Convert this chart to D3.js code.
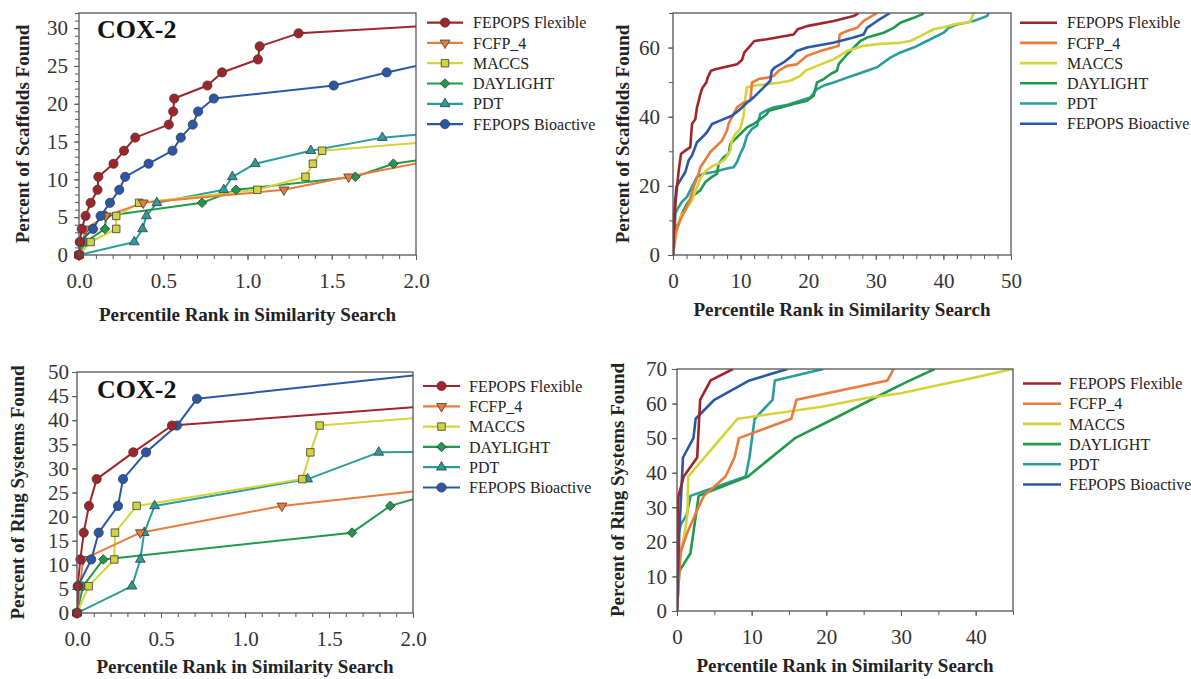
<!DOCTYPE html>
<html><head><meta charset="utf-8">
<script src="https://cdn.jsdelivr.net/npm/d3@7"></script>
<style>body{margin:0;background:#fff}</style>
</head><body>
<svg id="chart" width="1191" height="679"></svg>
<script>
// ---------- series ----------
const seriesNames = ["FEPOPS Flexible","FCFP_4","MACCS","DAYLIGHT","PDT","FEPOPS Bioactive"];
const seriesColors = ["#a1242a","#ea7b3c","#d3d33c","#21994a","#2a9c9c","#2a58a6"];
const seriesShapes = ["circle","triangleDown","square","diamond","triangleUp","circle"];

// ---------- panel A: scaffolds, 0-2 percentile (markers) ----------
const scafNearFlexible = [[0,0],[0.005,1.72],[0.016,3.45],[0.039,5.17],[0.069,6.9],[0.11,8.62],[0.115,10.34],[0.205,12.07],[0.267,13.79],[0.334,15.52],[0.533,17.24],[0.559,18.97],[0.565,20.69],[0.762,22.41],[0.849,24.14],[1.062,25.86],[1.072,27.59],[1.303,29.31],[2.0,30.2]];
const scafNearFCFP4 = [[0,0],[0.04,3.45],[0.16,5.17],[0.381,6.9],[1.216,8.62],[1.6,10.34],[2.0,12.1]];
const scafNearMACCS = [[0,0],[0.069,1.72],[0.221,3.45],[0.221,5.17],[0.357,6.9],[1.058,8.62],[1.344,10.34],[1.388,12.07],[1.443,13.79],[2.0,14.8]];
const scafNearDaylight = [[0,0],[0.037,1.72],[0.154,3.45],[0.16,5.17],[0.73,6.9],[0.932,8.62],[1.64,10.34],[1.866,12.07],[2.0,12.5]];
const scafNearPDT = [[0,0],[0.328,1.72],[0.377,3.45],[0.4,5.17],[0.462,6.9],[0.859,8.62],[0.91,10.34],[1.046,12.07],[1.376,13.79],[1.8,15.52],[2.0,15.9]];
const scafNearBioactive = [[0,0],[0.006,1.72],[0.083,3.45],[0.128,5.17],[0.184,6.9],[0.239,8.62],[0.274,10.34],[0.413,12.07],[0.555,13.79],[0.604,15.52],[0.675,17.24],[0.707,18.97],[0.8,20.69],[1.512,22.41],[1.826,24.14],[2.0,25.0]];

// ---------- panel B: scaffolds, 0-50 percentile ----------
const scafFarFlexible = [[0,0],[0.15,8.2],[0.39,15.8],[0.84,24.4],[1.18,29.2],[1.82,30.2],[2.56,31.2],[2.81,37.9],[3.3,39.3],[3.55,42.7],[3.8,44.6],[4.04,46.5],[4.34,48.3],[4.93,49.9],[5.13,51.3],[5.62,53.3],[6.26,53.7],[9.47,55.2],[10.2,56.4],[10.55,58.6],[11.19,60.0],[12.03,61.9],[13.9,62.4],[17.85,63.8],[18.44,65.3],[19.82,66.2],[23.77,67.7],[26.73,69.1],[27.47,70]];
const scafFarFCFP4 = [[0,0],[0.35,6.2],[0.69,8.1],[1.08,10.1],[1.58,12],[2.47,15.8],[3.06,19.7],[3.8,23.5],[4.04,25.4],[5.03,28.3],[5.52,29.8],[6.26,31.2],[7.25,33.1],[7.99,36],[8.23,38],[8.97,40.8],[9.47,42.7],[10.45,44.1],[11.44,44.6],[11.69,49.9],[12.67,50.9],[13.9,51.3],[14.89,51.8],[15.63,53.3],[16.86,54.7],[18.34,55.2],[19.82,57.6],[21.79,59],[24.5,60.5],[24.65,63.8],[25.74,64.8],[27.22,65.7],[28.21,67.7],[30.18,70]];
const scafFarMACCS = [[0,0],[0.35,4.3],[0.69,8.1],[1.08,11],[1.82,12.9],[2.81,15.8],[3.55,19.7],[4.04,22.1],[4.93,24.5],[6.02,25.9],[6.76,26.4],[7.74,27.8],[8.48,30.2],[8.73,33.1],[9.22,35],[9.96,36.5],[10.45,40.3],[10.7,45.6],[10.95,48.5],[11.93,49],[13.9,49.4],[15.88,49.9],[17.36,50.4],[18.84,51.8],[19.58,53.3],[21.3,54.7],[23.77,56.6],[25.74,59],[28.21,60.5],[30.18,61],[33.63,61.4],[35.11,61.9],[36.59,63.3],[38.56,65.3],[40.04,65.9],[41.52,66.7],[43.98,67.4],[44.48,70]];
const scafFarDaylight = [[0,0],[0.2,6.2],[0.49,8.1],[0.84,9.1],[1.33,12],[2.07,14.9],[3.06,17.3],[4.04,18.7],[4.78,21.1],[5.77,22.6],[6.51,23.5],[6.76,26.4],[7.5,28.3],[8.23,29.3],[8.48,32.1],[8.97,33.1],[9.96,35],[10.95,36.9],[11.93,37.9],[12.67,38.9],[13.9,40.8],[14.15,41.7],[15.14,42.2],[17.85,43.7],[19.82,44.6],[20.81,46.1],[21.3,49.9],[22.29,50.9],[23.27,52.3],[24.26,53.3],[24.51,55.2],[25.74,58],[27.71,61.9],[28.7,62.9],[31.16,64.3],[32.64,65.7],[33.63,67.2],[35.6,68.6],[36.83,69.6],[37.08,70]];
const scafFarPDT = [[0,0],[0.2,4.3],[0.35,12],[0.69,13.4],[1.33,15.4],[2.07,16.8],[2.81,19.7],[3.55,22.6],[4.54,23.5],[6.02,24],[7.0,24.5],[7.99,25],[8.97,25.4],[9.47,26.9],[9.96,29.3],[10.45,31.2],[10.95,34.5],[11.69,36.5],[12.43,37.4],[12.92,40.8],[13.66,41.7],[14.15,42.2],[14.89,42.7],[16.86,43.4],[18.84,44.6],[20.32,45.6],[21.3,48],[22.29,49],[23.77,49.9],[25.74,51.3],[27.22,52.3],[28.7,53.3],[30.18,54.3],[32.15,57.1],[33.63,58.6],[35.6,60],[37.57,61.9],[40.04,64.3],[40.78,65.7],[42.01,66.7],[44.48,67.7],[46.45,69.1],[46.7,70]];
const scafFarBioactive = [[0,0],[0.2,12],[0.49,19.7],[1.08,21.6],[1.82,24],[2.32,27.4],[2.81,28.8],[3.55,32.6],[4.54,34.5],[5.03,35.5],[5.77,37.9],[7.5,39.3],[8.73,40.3],[9.96,42.2],[10.95,44.1],[11.93,45.6],[13.17,48],[14.4,50.4],[14.6,53.3],[15.1,54.3],[16.35,55.7],[17.6,57.6],[18.3,59.0],[19.8,60],[23.7,61.4],[26.7,62.9],[28.2,63.8],[28.7,65.7],[30.2,67.7],[32.1,70]];

// ---------- panel C: ring systems, 0-2 percentile (markers) ----------
const ringNearFlexible = [[0,0],[0.004,5.56],[0.02,11.11],[0.04,16.67],[0.071,22.22],[0.117,27.78],[0.335,33.33],[0.565,38.89],[2.0,42.7]];
const ringNearFCFP4 = [[0,0],[0.036,11.11],[0.377,16.67],[1.22,22.22],[2.0,25.2]];
const ringNearMACCS = [[0,0],[0.069,5.56],[0.222,11.11],[0.226,16.67],[0.355,22.22],[1.341,27.78],[1.389,33.33],[1.444,38.89],[2.0,40.4]];
const ringNearDaylight = [[0,0],[0.036,5.56],[0.157,11.11],[1.637,16.67],[1.865,22.22],[2.0,23.6]];
const ringNearPDT = [[0,0],[0.327,5.56],[0.377,11.11],[0.4,16.67],[0.462,22.22],[1.373,27.78],[1.796,33.33],[2.0,33.4]];
const ringNearBioactive = [[0,0],[0.006,5.56],[0.085,11.11],[0.129,16.67],[0.244,22.22],[0.274,27.78],[0.411,33.33],[0.595,38.89],[0.714,44.44],[2.0,49.3]];

// ---------- panel D: ring systems, 0-45 percentile ----------
const ringFarFlexible = [[0,0],[0.1,27.8],[0.2,33.3],[0.9,38.9],[2.7,44.4],[3.1,61.1],[4.5,66.7],[7.5,70]];
const ringFarFCFP4 = [[0,0],[0.3,11.1],[0.5,17],[1.3,22.2],[2.4,27.8],[3.6,33.3],[5,36],[6.5,38.9],[7.7,44.4],[8.3,50],[15.3,55.6],[16,61.1],[28.2,66.7],[29,70]];
const ringFarMACCS = [[0,0],[0.4,16.7],[1.0,22.2],[1.4,27.8],[1.5,38.9],[5.9,50],[8.1,55.6],[19.4,59.1],[25.4,61.6],[30,63],[34.3,65],[39.6,67.4],[45,70]];
const ringFarDaylight = [[0,0],[0.3,11.1],[0.5,12.2],[1.8,16.7],[2.9,33.3],[9.5,38.9],[15.8,50],[21,55.6],[26,61.1],[30.5,66],[34.5,70]];
const ringFarPDT = [[0,0],[0.2,22.2],[0.5,25],[1.3,27.8],[1.8,33.3],[9.2,38.9],[9.7,44.4],[10.4,55.6],[12.8,61.1],[13.1,66.7],[19.6,70]];
const ringFarBioactive = [[0,0],[0.3,22.2],[0.8,44.4],[2.2,50],[2.5,55.6],[5,61.1],[9.7,66.7],[14.8,70]];

// ---------- axes ticks ----------
const nearXTicks = [0, 0.5, 1.0, 1.5, 2.0];
const scafNearYTicks = [0,5,10,15,20,25,30];
const scafFarXTicks = [0,10,20,30,40,50];
const scafFarYTicks = [0,20,40,60];
const ringNearYTicks = [0,5,10,15,20,25,30,35,40,45,50];
const ringFarXTicks = [0,10,20,30,40];
const ringFarYTicks = [0,10,20,30,40,50,60,70];

const xTitle = "Percentile Rank in Similarity Search";
const yTitleScaf = "Percent of Scaffolds Found";
const yTitleRing = "Percent of Ring Systems Found";
const panelLabel = "COX-2";

const panels = [
  {l:79,r:416,t:13,b:255,xd:[0,2],yd:[0,32],xt:nearXTicks,xfmt:d3.format(".1f"),xm:0.1,yt:scafNearYTicks,ym:1,ypad:6,
   series:[scafNearFlexible,scafNearFCFP4,scafNearMACCS,scafNearDaylight,scafNearPDT,scafNearBioactive],markers:true,
   label:{x:97,y:38},yTitle:yTitleScaf,yTx:29,xTy:321,leg:{x0:427,x1:463,tx:473,y0:22.6,dy:20.3}},
  {l:673,r:1011,t:13,b:255,xd:[0,50],yd:[0,70],xt:scafFarXTicks,xfmt:d3.format("d"),xm:2,yt:scafFarYTicks,ym:10,ypad:8,
   series:[scafFarFlexible,scafFarFCFP4,scafFarMACCS,scafFarDaylight,scafFarPDT,scafFarBioactive],markers:false,
   label:null,yTitle:yTitleScaf,yTx:629,xTy:316,leg:{x0:1020,x1:1057,tx:1067,y0:22.7,dy:20.2}},
  {l:77,r:413,t:372,b:613,xd:[0,2],yd:[0,50],xt:nearXTicks,xfmt:d3.format(".1f"),xm:0.1,yt:ringNearYTicks,ym:5,ypad:3,
   series:[ringNearFlexible,ringNearFCFP4,ringNearMACCS,ringNearDaylight,ringNearPDT,ringNearBioactive],markers:true,
   label:{x:97,y:398},yTitle:yTitleRing,yTx:24,xTy:673,leg:{x0:423,x1:460,tx:469,y0:386,dy:20.3}},
  {l:677,r:1013,t:369,b:611,xd:[0,45],yd:[0,70],xt:ringFarXTicks,xfmt:d3.format("d"),xm:5,yt:ringFarYTicks,ym:10,ypad:5,
   series:[ringFarFlexible,ringFarFCFP4,ringFarMACCS,ringFarDaylight,ringFarPDT,ringFarBioactive],markers:false,
   label:null,yTitle:yTitleRing,yTx:624,xTy:672,leg:{x0:1023,x1:1061,tx:1069,y0:383.5,dy:20.2}}
];

const svg = d3.select("#chart");
const serif = "'Liberation Serif','Times New Roman',Times,serif";

function symbolPath(shape){
  const map = {circle:[d3.symbolCircle,66,0], square:[d3.symbolSquare,56,0], diamond:[d3.symbolSquare,46,45],
               triangleUp:[d3.symbolTriangle,42,0], triangleDown:[d3.symbolTriangle,42,180]};
  const m = map[shape];
  return {d:d3.symbol().type(m[0]).size(m[1])(), rot:m[2]};
}
function drawMarker(g, shape, color, x, y){
  const s = symbolPath(shape);
  g.append("path").attr("d", s.d)
    .attr("transform", `translate(${x},${y}) rotate(${s.rot})`)
    .attr("fill", color).attr("stroke", "#3a3a3a").attr("stroke-width", 0.8);
}

panels.forEach((p, pi) => {
  const x = d3.scaleLinear().domain(p.xd).range([p.l, p.r]);
  const y = d3.scaleLinear().domain(p.yd).range([p.b, p.t]);
  const g = svg.append("g");

  // minor ticks
  const xm = d3.range(p.xd[0], p.xd[1] + 1e-9, p.xm);
  const ym = d3.range(p.yd[0], p.yd[1] + 1e-9, p.ym);
  g.append("g").attr("transform", `translate(0,${p.b})`)
    .call(d3.axisBottom(x).tickValues(xm).tickSize(4).tickFormat(""))
    .call(a => a.select(".domain").remove())
    .call(a => a.selectAll("line").attr("stroke", "#555"));
  g.append("g").attr("transform", `translate(${p.l},0)`)
    .call(d3.axisLeft(y).tickValues(ym).tickSize(4).tickFormat(""))
    .call(a => a.select(".domain").remove())
    .call(a => a.selectAll("line").attr("stroke", "#555"));

  // major axes
  g.append("g").attr("transform", `translate(0,${p.b})`)
    .call(d3.axisBottom(x).tickValues(p.xt).tickSize(5).tickPadding(13).tickFormat(p.xfmt))
    .call(a => a.select(".domain").remove())
    .call(a => a.selectAll("line").attr("stroke", "#555"))
    .call(a => a.selectAll("text").attr("font-family", serif).attr("font-size", 21).attr("fill", "#333"));
  g.append("g").attr("transform", `translate(${p.l},0)`)
    .call(d3.axisLeft(y).tickValues(p.yt).tickSize(5).tickPadding(p.ypad))
    .call(a => a.select(".domain").remove())
    .call(a => a.selectAll("line").attr("stroke", "#555"))
    .call(a => a.selectAll("text").attr("font-family", serif).attr("font-size", 21).attr("fill", "#333"));

  // clip
  const cid = "clip" + pi;
  svg.append("clipPath").attr("id", cid).append("rect")
    .attr("x", p.l).attr("y", p.t).attr("width", p.r - p.l).attr("height", p.b - p.t);

  const line = d3.line().x(d => x(d[0])).y(d => y(d[1]));
  const lw = p.markers ? 2 : 2.6;
  const order = [4,3,2,1,5,0];
  const plot = g.append("g").attr("clip-path", `url(#${cid})`);
  order.forEach(si => {
    plot.append("path").datum(p.series[si]).attr("d", line)
      .attr("fill", "none").attr("stroke", seriesColors[si]).attr("stroke-width", lw)
      .attr("stroke-linejoin", "round");
  });
  if (p.markers) {
    const mg = g.append("g");
    order.forEach(si => {
      const pts = p.series[si].slice(0, -1);
      pts.forEach(d => drawMarker(mg, seriesShapes[si], seriesColors[si], x(d[0]), y(d[1])));
    });
  }

  // frame
  g.append("rect").attr("x", p.l).attr("y", p.t).attr("width", p.r - p.l).attr("height", p.b - p.t)
    .attr("fill", "none").attr("stroke", "#555").attr("stroke-width", 1.3);

  // panel label
  if (p.label) {
    g.append("text").attr("x", p.label.x).attr("y", p.label.y).text(panelLabel)
      .attr("font-family", serif).attr("font-weight", "bold").attr("font-size", 26).attr("fill", "#111");
  }

  // axis titles
  g.append("text").attr("x", (p.l + p.r) / 2).attr("y", p.xTy).attr("text-anchor", "middle")
    .attr("font-family", serif).attr("font-weight", "bold").attr("font-size", 19).attr("fill", "#222").text(xTitle);
  g.append("text").attr("transform", `translate(${p.yTx},${(p.t + p.b) / 2}) rotate(-90)`).attr("text-anchor", "middle")
    .attr("font-family", serif).attr("font-weight", "bold").attr("font-size", 19).attr("fill", "#222").text(p.yTitle);

  // legend
  const lg = g.append("g");
  seriesNames.forEach((name, si) => {
    const yy = p.leg.y0 + si * p.leg.dy;
    lg.append("line").attr("x1", p.leg.x0).attr("x2", p.leg.x1).attr("y1", yy).attr("y2", yy)
      .attr("stroke", seriesColors[si]).attr("stroke-width", p.markers ? 2.2 : 2.6);
    if (p.markers) drawMarker(lg, seriesShapes[si], seriesColors[si], (p.leg.x0 + p.leg.x1) / 2, yy);
    lg.append("text").attr("x", p.leg.tx).attr("y", yy).attr("dy", "0.35em")
      .attr("font-family", serif).attr("font-size", 16).attr("fill", "#222").text(name);
  });
});
</script>
</body></html>
